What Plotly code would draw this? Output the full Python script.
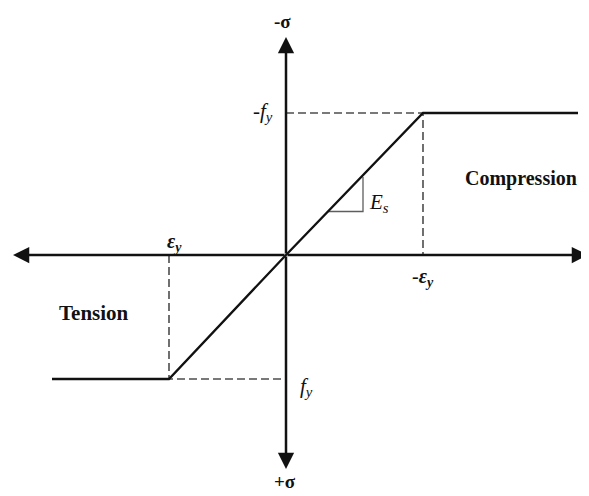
import plotly.graph_objects as go

# strain (positive = tension, drawn to the left) and stress (positive = tension, drawn downwards)
eps_yield_t = 1.17
eps_yield_c = -1.37
f_yield_t = 1.24
f_yield_c = -1.42
eps_end_t = 2.34
eps_end_c = -2.92

curve_eps = [eps_end_t, eps_yield_t, 0.0, eps_yield_c, eps_end_c]
curve_sig = [f_yield_t, f_yield_t, 0.0, f_yield_c, f_yield_c]

# slope triangle (E_s)
tri_eps = [-0.42, -0.77, -0.77]
tri_sig = [-0.435, -0.435, -0.78]

# axis extents
x_axis_ends = [2.73, -3.02]
y_axis_ends = [-2.18, 2.14]

SERIF = "Liberation Serif, Times New Roman, serif"
DASH_COLOR = "#4d4d4d"

fig = go.Figure()

# dashed guide lines
fig.add_trace(go.Scatter(
    x=[0.0, eps_yield_c, eps_yield_c], y=[f_yield_c, f_yield_c, 0.0],
    mode="lines", line=dict(color=DASH_COLOR, width=1.6, dash="8px,4px"),
    hoverinfo="skip",
))
fig.add_trace(go.Scatter(
    x=[eps_yield_t, eps_yield_t, 0.0], y=[0.0, f_yield_t, f_yield_t],
    mode="lines", line=dict(color=DASH_COLOR, width=1.6, dash="8px,4px"),
    hoverinfo="skip",
))

# slope triangle
fig.add_trace(go.Scatter(
    x=tri_eps, y=tri_sig, mode="lines",
    line=dict(color="#5e5e5e", width=1.3), hoverinfo="skip",
))

# elastic-perfectly plastic curve
fig.add_trace(go.Scatter(
    x=curve_eps, y=curve_sig, mode="lines",
    line=dict(color="#111111", width=2.3), hoverinfo="skip",
))

annotations = []

# axes drawn as arrows
for xe in x_axis_ends:
    annotations.append(dict(
        x=xe, y=0, ax=0, ay=0, xref="x", yref="y", axref="x", ayref="y",
        showarrow=True, arrowhead=2, arrowsize=1.3, arrowwidth=2.5,
        arrowcolor="#111111", text="",
    ))
for ye in y_axis_ends:
    annotations.append(dict(
        x=0, y=ye, ax=0, ay=0, xref="x", yref="y", axref="x", ayref="y",
        showarrow=True, arrowhead=2, arrowsize=1.3, arrowwidth=2.5,
        arrowcolor="#111111", text="",
    ))

labels = [
    ("<b>-σ</b>", 0.04, -2.46, "center", "top", 19),
    ("<b>+σ</b>", 0.01, 2.39, "center", "bottom", 19),
    ("-<i>f<sub>y</sub></i>", 0.11, -1.43, "right", "middle", 21),
    ("<i>f<sub>y</sub></i>", -0.12, 1.32, "left", "middle", 21),
    ("<b><i>ε<sub>y</sub></i></b>", 1.12, -0.13, "center", "middle", 20),
    ("-<b><i>ε<sub>y</sub></i></b>", -1.37, 0.22, "center", "middle", 20),
    ("<i>E<sub>s</sub></i>", -0.81, -0.52, "left", "middle", 21),
    ("<b>Compression</b>", -2.35, -0.77, "center", "middle", 20),
    ("<b>Tension</b>", 1.92, 0.58, "center", "middle", 21),
]
for text, xv, yv, xanchor, yanchor, size in labels:
    annotations.append(dict(
        x=xv, y=yv, xref="x", yref="y", text=text, showarrow=False,
        xanchor=xanchor, yanchor=yanchor,
        font=dict(family=SERIF, size=size, color="#111111"),
    ))

# page body adds an 8px margin, so the ranges are shifted by that much
fig.update_layout(
    width=589,
    height=496,
    margin=dict(l=0, r=0, t=0, b=0),
    paper_bgcolor="white",
    plot_bgcolor="white",
    showlegend=False,
    xaxis=dict(range=[2.78, -3.11], visible=False, fixedrange=True),
    yaxis=dict(range=[2.49, -2.47], visible=False, fixedrange=True),
    annotations=annotations,
)

fig.write_html("out.html")
